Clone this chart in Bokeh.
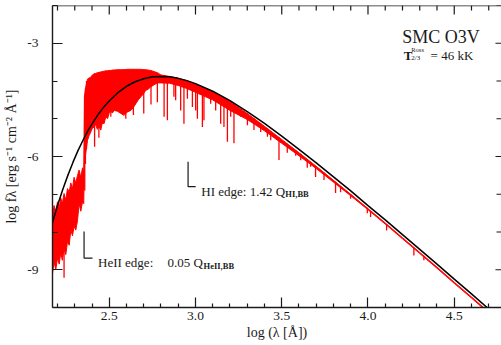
from bokeh.plotting import figure
from bokeh.models import ColumnDataSource, FixedTicker, LinearAxis, Range1d, Span
from bokeh.embed import file_html
from bokeh.resources import INLINE
from bokeh.core.properties import value

# ---------------- data ----------------
# black-body comparison curve
bb_logl = [2.171, 2.20, 2.23, 2.26, 2.29, 2.32, 2.35, 2.38, 2.41, 2.44, 2.47, 2.50,
           2.55, 2.60, 2.65, 2.70, 2.75, 2.80, 2.85, 2.90, 2.95, 3.00, 3.10, 3.20,
           3.30, 3.40, 3.50, 3.60, 3.70, 3.80, 3.90, 4.00, 4.10, 4.20, 4.30, 4.40,
           4.50, 4.60, 4.70, 4.77]
bb_logf = [-7.75, -7.30, -6.88, -6.50, -6.15, -5.83, -5.55, -5.29, -5.07, -4.86, -4.68, -4.53,
           -4.31, -4.14, -4.02, -3.94, -3.89, -3.88, -3.89, -3.93, -3.99, -4.07, -4.27, -4.52,
           -4.81, -5.12, -5.46, -5.81, -6.17, -6.54, -6.91, -7.30, -7.68, -8.07, -8.46, -8.85,
           -9.25, -9.64, -10.04, -10.32]

# model spectrum: upper / lower envelope of the dense line forest
red_logl = [2.171, 2.180, 2.190, 2.200, 2.210, 2.219, 2.228, 2.238, 2.248, 2.258, 2.268,
            2.277, 2.287, 2.296, 2.306, 2.316, 2.325, 2.335, 2.345, 2.352,
            2.356, 2.364, 2.374, 2.383, 2.393, 2.402, 2.412, 2.421, 2.431, 2.441, 2.451,
            2.460, 2.470, 2.480, 2.490, 2.499, 2.509, 2.518, 2.528, 2.547, 2.567, 2.586,
            2.605, 2.625, 2.640, 2.654, 2.668, 2.683, 2.697, 2.711, 2.725, 2.740, 2.760,
            2.779, 2.80, 2.85, 2.90, 2.95, 3.00, 3.10, 3.20, 3.30, 3.40, 3.50, 3.60, 3.70,
            3.80, 3.90, 4.00, 4.10, 4.20, 4.30, 4.40, 4.50, 4.60, 4.70, 4.77]
red_top = [-7.55, -7.30, -7.45, -7.20, -7.35, -7.10, -7.25, -6.98, -7.15, -6.85, -6.95,
           -6.70, -6.85, -6.55, -6.70, -6.50, -6.36, -6.55, -6.30, -6.40,
           -4.42, -4.16, -3.95, -3.92, -3.90, -3.84, -3.81, -3.80, -3.78, -3.77, -3.76,
           -3.75, -3.74, -3.73, -3.73, -3.72, -3.72, -3.71, -3.71, -3.70, -3.70, -3.70,
           -3.69, -3.69, -3.69, -3.69, -3.69, -3.69, -3.70, -3.70, -3.71, -3.72, -3.75,
           -3.78, -3.84, -3.88, -3.93, -3.99, -4.08, -4.28, -4.54, -4.86, -5.20, -5.55,
           -5.90, -6.26, -6.63, -7.00, -7.38, -7.76, -8.15, -8.54, -8.93, -9.33, -9.72,
           -10.12, -10.40]
red_bot = [-9.10, -8.80, -9.00, -8.70, -8.85, -8.55, -8.75, -8.45, -8.60, -8.25, -8.35,
           -7.95, -8.10, -7.85, -7.95, -7.70, -7.25, -7.45, -7.20, -7.25,
           -6.20, -5.90, -5.57, -5.45, -5.35, -5.25, -5.22, -5.15, -5.28, -5.20, -5.30,
           -5.10, -5.13, -4.95, -5.00, -4.86, -4.80, -4.85, -4.78, -4.80, -4.86, -4.91,
           -4.82, -4.78, -4.70, -4.60, -4.50, -4.42, -4.35, -4.25, -4.22, -4.16, -4.10,
           -4.05, -4.05, -4.06, -4.12, -4.20, -4.30, -4.50, -4.78, -5.02, -5.32, -5.65,
           -5.98, -6.32, -6.68, -7.04, -7.41, -7.79, -8.18, -8.57, -8.96, -9.36, -9.75,
           -10.15, -10.43]

# strong absorption lines (wavelength, continuum level, line depth)
line_logl = [2.238, 2.358, 2.362, 2.368, 2.415, 2.440, 2.462, 2.509, 2.596, 2.640, 2.700,
             2.742, 2.779, 2.818, 2.837, 2.875, 2.885, 2.914, 2.933, 2.953, 2.982, 3.001,
             3.011, 3.040, 3.049, 3.088, 3.117, 3.146, 3.165, 3.185, 3.204, 3.223, 3.262,
             3.301, 3.339, 3.378, 3.417, 3.436, 3.484, 3.532, 3.581, 3.610, 3.648, 3.667,
             3.696, 3.745, 3.812, 3.841, 3.899, 3.996, 4.015, 4.108, 4.266, 4.324]
line_hi = [-8.40, -4.40, -4.20, -4.00, -3.81, -3.78, -3.75, -3.72, -3.70, -3.69, -3.69,
           -3.72, -3.78, -3.85, -3.87, -3.91, -3.92, -3.95, -3.97, -3.99, -4.05, -4.08,
           -4.10, -4.16, -4.18, -4.26, -4.32, -4.40, -4.45, -4.50, -4.55, -4.61, -4.74,
           -4.86, -4.99, -5.12, -5.26, -5.33, -5.49, -5.66, -5.83, -5.93, -6.07, -6.14,
           -6.25, -6.43, -6.67, -6.78, -7.00, -7.36, -7.44, -7.79, -8.41, -8.63]
line_lo = [-9.21, -6.90, -6.20, -5.80, -5.74, -5.50, -5.13, -4.95, -5.00, -4.90, -4.86,
           -4.62, -4.56, -4.95, -5.04, -4.42, -4.51, -4.78, -5.13, -4.47, -4.69, -4.78,
           -5.00, -5.22, -5.04, -4.60, -4.78, -5.13, -5.22, -5.61, -4.95, -5.65, -4.95,
           -5.17, -5.30, -5.35, -5.48, -5.57, -6.09, -5.90, -5.98, -6.10, -6.30, -6.27,
           -6.54, -6.62, -6.97, -6.95, -7.12, -7.50, -7.60, -7.96, -8.62, -8.75]

x_major = [2.5, 3.0, 3.5, 4.0, 4.5]
x_major_labels = ["2.5", "3.0", "3.5", "4.0", "4.5"]
x_minor = [2.2, 2.3, 2.4, 2.6, 2.7, 2.8, 2.9, 3.1, 3.2, 3.3, 3.4, 3.6, 3.7, 3.8,
           3.9, 4.1, 4.2, 4.3, 4.4, 4.6, 4.7]
y_major = [-9, -6, -3]
y_major_labels = ["-9", "-6", "-3"]
y_minor = [-10, -8, -7, -5, -4, -2]

# ---------------- figure ----------------
FONT = "Liberation Serif"
INK = "#1a1a1a"
X0, X1, Y0, Y1 = 2.171, 4.774, -10.0, -2.0

p = figure(width=501, height=345, x_range=Range1d(X0, X1), y_range=Range1d(Y0, Y1),
           output_backend="svg", toolbar_location=None,
           x_axis_location=None, y_axis_location=None,
           min_border_left=52, min_border_right=0, min_border_top=5, min_border_bottom=38)
p.outline_line_color = None
p.grid.visible = False
p.background_fill_color = "white"
p.border_fill_color = "white"


def make_axis(ticks, minor, labels, tick_in, minor_in):
    ax = LinearAxis(ticker=FixedTicker(ticks=ticks, minor_ticks=minor))
    ax.major_tick_in = tick_in
    ax.major_tick_out = 0
    ax.minor_tick_in = minor_in
    ax.minor_tick_out = 0
    ax.major_tick_line_color = INK
    ax.minor_tick_line_color = INK
    ax.major_tick_line_width = 1.2
    ax.minor_tick_line_width = 1.2
    ax.axis_line_color = INK
    ax.axis_line_width = 1.4
    ax.major_label_overrides = {t: l for t, l in zip(ticks, labels)}
    ax.major_label_text_font = FONT
    ax.major_label_text_font_size = "13.5px"
    ax.major_label_text_color = INK
    ax.axis_label_text_font = FONT
    ax.axis_label_text_font_size = "14px"
    ax.axis_label_text_font_style = "normal"
    ax.axis_label_text_color = INK
    return ax


bottom = make_axis(x_major, x_minor, x_major_labels, 10, 4)
bottom.major_label_standoff = 4
bottom.axis_label = "log (\u03bb [\u00c5])"
bottom.axis_label_standoff = 2
p.add_layout(bottom, "below")

left = make_axis(y_major, y_minor, y_major_labels, 10, 5)
left.major_label_standoff = 14
left.axis_label = "log f\u03bb [erg s\u207b\u00b9 cm\u207b\u00b2 \u00c5\u207b\u00b9]"
left.axis_label_standoff = 5
p.add_layout(left, "left")

# top frame line and inward ticks on the top and right edges
p.add_layout(Span(location=Y1, dimension="width", line_color=INK, line_width=1.4))
top_major_len, top_minor_len = 0.24, 0.13      # 9 px and 5 px in y units
right_major_len, right_minor_len = 0.035, 0.029  # 6 px and 5 px in x units
p.segment(x0=x_major, y0=[Y1] * len(x_major), x1=x_major,
          y1=[Y1 - top_major_len] * len(x_major), line_color=INK, line_width=1.2)
p.segment(x0=x_minor, y0=[Y1] * len(x_minor), x1=x_minor,
          y1=[Y1 - top_minor_len] * len(x_minor), line_color=INK, line_width=1.2)
p.segment(x0=[X1] * len(y_major), y0=y_major, x1=[X1 - right_major_len] * len(y_major),
          y1=y_major, line_color=INK, line_width=1.2)
p.segment(x0=[X1] * len(y_minor), y0=y_minor, x1=[X1 - right_minor_len] * len(y_minor),
          y1=y_minor, line_color=INK, line_width=1.2)

# ---------------- spectra ----------------
red_src = ColumnDataSource(dict(x=red_logl, top=red_top, bot=red_bot))
p.varea(x="x", y1="bot", y2="top", source=red_src, fill_color="#ff0000")
p.line(x="x", y="top", source=red_src, line_color="#ff0000", line_width=1.0)
p.line(x="x", y="bot", source=red_src, line_color="#ff0000", line_width=1.0)

lines_src = ColumnDataSource(dict(x=line_logl, hi=line_hi, lo=line_lo))
p.segment(x0="x", y0="hi", x1="x", y1="lo", source=lines_src,
          line_color="#ff0000", line_width=1.3)

bb_src = ColumnDataSource(dict(x=bb_logl, y=bb_logf))
p.line(x="x", y="y", source=bb_src, line_color="black", line_width=1.5)

# ---------------- annotations ----------------
def txt(x, y, s, size, style="normal"):
    p.text(x=[x], y=[y], text=[s], text_font=value(FONT), text_font_size=size,
           text_color=INK, text_baseline="alphabetic", text_font_style=style)


# HeII edge bracket
p.line(x=[2.354, 2.354, 2.403], y=[-7.99, -8.69, -8.69], line_color=INK, line_width=1.2)
txt(2.435, -8.82, "HeII edge:", "13px")
txt(2.837, -8.82, "0.05 Q", "13px")
txt(3.047, -8.90, "HeII,BB", "8.5px", "bold")

# HI edge bracket
p.line(x=[2.957, 2.957, 3.001], y=[-6.14, -6.80, -6.80], line_color=INK, line_width=1.2)
txt(3.034, -6.93, "HI edge: 1.42 Q", "13px")
txt(3.521, -7.00, "HI,BB", "8.5px", "bold")

# model label
txt(4.199, -2.84, "SMC O3V", "18px")
txt(4.208, -3.325, "T", "13px", "bold")
txt(4.251, -3.16, "Ross", "6.5px")
txt(4.251, -3.39, "2/3", "7px")
txt(4.363, -3.325, "= 46 kK", "13px")

open("out.html", "w").write(file_html(p, INLINE))
